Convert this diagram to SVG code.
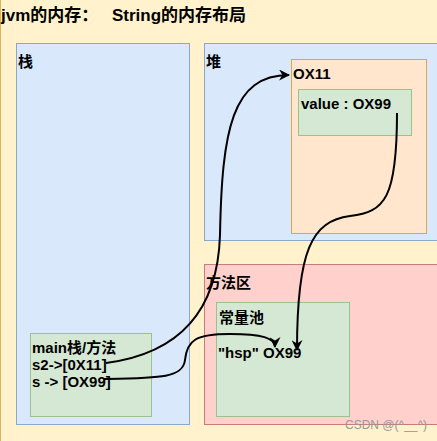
<svg xmlns="http://www.w3.org/2000/svg" width="437" height="441" viewBox="0 0 437 441">
<defs>
<style>
text{font-family:"Liberation Sans","Noto Sans CJK SC",sans-serif;font-weight:bold;font-size:15px;fill:#000}
.blue{fill:#dae8fc;stroke:#8ea7c9;stroke-width:1}
.orange{fill:#ffe6cc;stroke:#d9a84a;stroke-width:1}
.green{fill:#d5e8d4;stroke:#9dc18a;stroke-width:1}
.red{fill:#ffd0cc;stroke:#c97d78;stroke-width:1}
.edge{fill:none;stroke:#000;stroke-width:2;marker-end:url(#arr)}
</style>
<marker id="arr" viewBox="0 0 10 10" refX="9" refY="5" markerWidth="5.5" markerHeight="5.5" orient="auto" markerUnits="strokeWidth">
<path d="M0,0 L10,5 L0,10 L3,5 Z" fill="#000"/>
</marker>
</defs>
<rect x="0.5" y="-2" width="440" height="446" fill="#fff2cc" stroke="#d6b656"/>
<text x="1" y="21" style="font-size:17px">jvm的内存：<tspan x="112">String的内存布局</tspan></text>
<g id="stack">
<rect class="blue" x="16.5" y="43.5" width="173" height="381"/>
<text x="18" y="67">栈</text>
</g>
<g id="heap">
<rect class="blue" x="204.5" y="43.5" width="240" height="197"/>
<text x="206" y="67">堆</text>
</g>
<g id="ox11">
<rect class="orange" x="291.5" y="59.5" width="135" height="174"/>
<text x="293" y="79">OX11</text>
</g>
<g id="value">
<rect class="green" x="298.5" y="89.5" width="113" height="46"/>
<text x="301" y="109">value : OX99</text>
</g>
<g id="method">
<rect class="red" x="204.5" y="264.5" width="240" height="160"/>
<text x="206" y="288">方法区</text>
</g>
<g id="pool">
<rect class="green" x="216.5" y="302.5" width="133" height="114"/>
<text x="219" y="323">常量池</text>
<text x="218" y="358">"hsp" OX99</text>
</g>
<g id="main">
<rect class="green" x="30.5" y="333.5" width="121" height="83"/>
<text x="32" y="353">main栈/方法</text>
<text x="32" y="370">s2-&gt;[0X11]</text>
<text x="32" y="387">s -&gt; [OX99]</text>
</g>
<g id="connectors">
<path class="edge" d="M106,363 C190,352 218,300 220,235 C222,130 232,75 289,75"/>
<path class="edge" d="M397,113 C397,198 385,212 350,216 C312,221 297,250 297,350"/>
<path class="edge" d="M104,379 C160,378 183,378 185,360 C187,340 196,334 230,334 C262,334 275,338 275,347"/>
</g>
<text x="345" y="429" style="font-size:12px;font-weight:normal;fill:#999">CSDN @(^__^)</text>
</svg>
